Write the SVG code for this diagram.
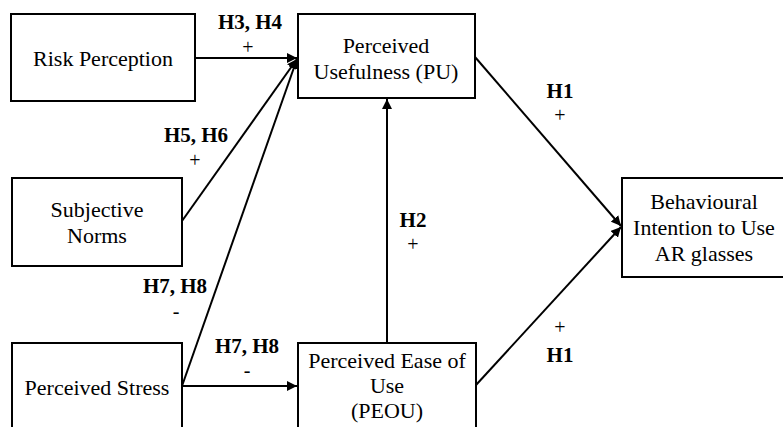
<svg xmlns="http://www.w3.org/2000/svg" width="783" height="427" viewBox="0 0 783 427">
<style>
.box{fill:#fff;stroke:#000;stroke-width:2}
text{font-family:"Liberation Serif","DejaVu Serif","Times New Roman",serif;fill:#000;text-anchor:middle}
.t{font-size:22px}
.l{font-size:21px;font-weight:bold}
.s{font-size:20px}
.c{fill:none;stroke:#000;stroke-width:2}
</style>
<defs>
<marker id="ah" viewBox="0 0 10 10" refX="10" refY="5" markerWidth="5" markerHeight="5" orient="auto" markerUnits="strokeWidth">
<path d="M0,0 L10,5 L0,10 z" fill="#000"/>
</marker>
</defs>
<g id="connectors">
<line class="c" x1="195" y1="58" x2="297" y2="58" marker-end="url(#ah)"/>
<line class="c" x1="182" y1="221" x2="297" y2="59" marker-end="url(#ah)"/>
<line class="c" x1="182" y1="386" x2="297" y2="59" marker-end="url(#ah)"/>
<line class="c" x1="182" y1="386" x2="297" y2="386" marker-end="url(#ah)"/>
<line class="c" x1="387" y1="343" x2="387" y2="99" marker-end="url(#ah)"/>
<line class="c" x1="475" y1="57" x2="621" y2="226" marker-end="url(#ah)"/>
<line class="c" x1="476" y1="385" x2="621" y2="227" marker-end="url(#ah)"/>
</g>
<g id="labels">
<text class="l" x="250" y="29">H3, H4</text>
<text class="s" x="248" y="54">+</text>
<text class="l" x="196" y="142">H5, H6</text>
<text class="s" x="195" y="167">+</text>
<text class="l" x="175" y="293">H7, H8</text>
<text class="s" x="176" y="318">-</text>
<text class="l" x="247" y="353">H7, H8</text>
<text class="s" x="247" y="377">-</text>
<text class="l" x="413" y="227">H2</text>
<text class="s" x="413" y="251">+</text>
<text class="l" x="560" y="98">H1</text>
<text class="s" x="560" y="122">+</text>
<text class="s" x="560" y="334">+</text>
<text class="l" x="560" y="362">H1</text>
</g>
<g id="risk">
<rect class="box" x="11" y="14" width="184" height="87"/>
<text class="t" x="103" y="66">Risk Perception</text>
</g>
<g id="pu">
<rect class="box" x="298" y="14" width="177" height="84"/>
<text class="t" x="386" y="53">Perceived</text>
<text class="t" x="386" y="79">Usefulness  (PU)</text>
</g>
<g id="sn">
<rect class="box" x="12" y="178" width="170" height="88"/>
<text class="t" x="97" y="217">Subjective</text>
<text class="t" x="97" y="243">Norms</text>
</g>
<g id="ps">
<rect class="box" x="12" y="343" width="170" height="90"/>
<text class="t" x="97" y="395">Perceived Stress</text>
</g>
<g id="peou">
<rect class="box" x="298" y="343" width="178" height="90"/>
<text class="t" x="387" y="368">Perceived Ease of</text>
<text class="t" x="387" y="393">Use</text>
<text class="t" x="387" y="418">(PEOU)</text>
</g>
<g id="bi">
<rect class="box" x="622" y="178" width="162" height="99"/>
<text class="t" x="704" y="209">Behavioural</text>
<text class="t" x="704" y="235">Intention  to Use</text>
<text class="t" x="704" y="261">AR glasses</text>
</g>
</svg>
